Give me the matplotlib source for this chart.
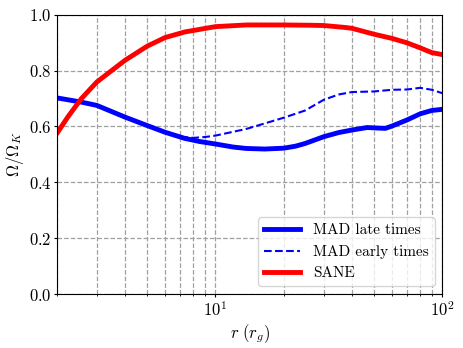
import numpy as np
import matplotlib
matplotlib.use("Agg")
import matplotlib.pyplot as plt

# LaTeX-like look without a TeX install
plt.rcParams['font.family'] = 'serif'
plt.rcParams['font.serif'] = ['cmr10']
plt.rcParams['mathtext.fontset'] = 'cm'
plt.rcParams['axes.formatter.use_mathtext'] = True
plt.rcParams['axes.unicode_minus'] = False

# SANE rotation profile
r_sane = [2.0, 2.23, 2.56, 3.0, 4.0, 5.0, 6.0, 7.33, 10.0, 13.7, 20.0, 26.2,
          30.0, 37.4, 40.0, 50.0, 60.0, 70.0, 80.0, 90.0, 100.0]
om_sane = [0.575, 0.633, 0.699, 0.759, 0.837, 0.887, 0.918, 0.938, 0.957, 0.963, 0.963, 0.962,
           0.961, 0.954, 0.951, 0.930, 0.915, 0.899, 0.881, 0.864, 0.857]

# MAD late times
r_late = [2.0, 2.56, 3.0, 4.0, 5.0, 6.0, 7.33, 8.5, 10.0, 12.0, 13.7, 16.5, 20.0, 22.5, 24.9, 30.0,
          35.0, 40.0, 46.7, 52.0, 56.2, 60.0, 70.0, 80.0, 90.0, 100.0]
om_late = [0.702, 0.687, 0.675, 0.633, 0.603, 0.579, 0.557, 0.546, 0.537, 0.526, 0.521, 0.519, 0.522,
           0.529, 0.539, 0.563, 0.578, 0.587, 0.596, 0.594, 0.593, 0.601, 0.623, 0.645, 0.657, 0.661]

# MAD early times
r_early = [7.0, 8.0, 9.0, 10.0, 13.7, 20.0, 24.9, 30.0, 34.9, 40.0, 50.0, 60.0,
           70.0, 80.0, 90.0, 100.0]
om_early = [0.563, 0.559, 0.562, 0.567, 0.591, 0.631, 0.657, 0.695, 0.714, 0.723, 0.725, 0.731,
            0.732, 0.738, 0.731, 0.719]

fig = plt.figure(figsize=(4.63, 3.48), dpi=100)
ax = fig.add_axes([0.123, 0.155, 0.832, 0.803])

ax.plot(r_late, om_late, color='blue', lw=3.5, label='MAD late times')
ax.plot(r_early, om_early, color='blue', lw=1.5, ls='--', label='MAD early times')
ax.plot(r_sane, om_sane, color='red', lw=3.5, label='SANE')

ax.set_xscale('log')
ax.set_xlim(2, 100)
ax.set_ylim(0, 1)
ax.set_yticks([0, 0.2, 0.4, 0.6, 0.8, 1.0])
ax.grid(True, which='both', axis='x', ls='--', color='#a0a0a0', lw=0.9)
ax.grid(True, which='major', axis='y', ls='--', color='#a0a0a0', lw=0.9)
ax.tick_params(which='major', labelsize=12, length=2.5, pad=1.5)
ax.tick_params(which='minor', length=1.5)

ax.set_xlabel(r'$r\ (r_g)$', fontsize=12, labelpad=3)
ax.set_ylabel(r'$\Omega/\Omega_K$', fontsize=12, labelpad=2)
ax.legend(loc='lower right', fontsize=11, handlelength=2.4, framealpha=0.8)

fig.savefig('out.png', dpi=100)
